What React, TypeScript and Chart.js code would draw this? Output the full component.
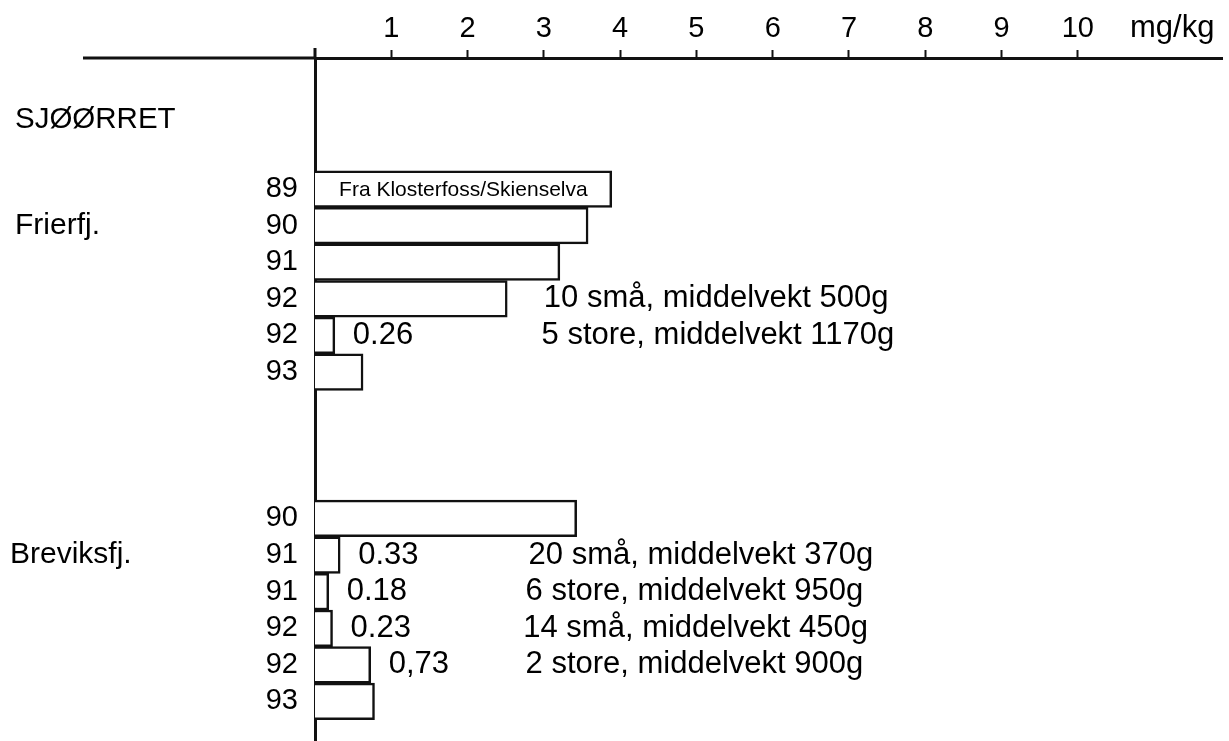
import React, { useEffect, useRef } from 'react';
import { Chart, registerables } from 'chart.js';

Chart.register(...registerables);

// ---- data ----
const speciesTitle = 'SJØØRRET';
const unitLabel = 'mg/kg';
const xTickValues = [1, 2, 3, 4, 5, 6, 7, 8, 9, 10];
const groupNames = ['Frierfj.', 'Breviksfj.'];
const groupLabelSlots = [1, 10];
const yearLabels = ['89', '90', '91', '92', '92', '93', '90', '91', '91', '92', '92', '93'];
const rowSlots = [0, 1, 2, 3, 4, 5, 9, 10, 11, 12, 13, 14];
const values = [3.89, 3.58, 3.21, 2.52, 0.26, 0.63, 3.43, 0.33, 0.18, 0.23, 0.73, 0.78];
const valueLabels = ['', '', '', '', '0.26', '', '', '0.33', '0.18', '0.23', '0,73', ''];
const notes = [
  '', '', '',
  '10 små, middelvekt 500g',
  '5 store, middelvekt 1170g',
  '', '',
  '20 små, middelvekt 370g',
  '6 store, middelvekt 950g',
  '14 små, middelvekt 450g',
  '2 store, middelvekt 900g',
  '',
];
const noteAt = [0, 0, 0, 3.0, 2.97, 0, 0, 2.8, 2.76, 2.73, 2.76, 0];
const barTexts = ['Fra Klosterfoss/Skienselva', '', '', '', '', '', '', '', '', '', '', ''];

const FONT = '"Liberation Sans", Arial, Helvetica, sans-serif';
const INK = '#111111';

const textPlugin = {
  id: 'annotText',
  afterDraw(chart: any) {
    const ctx = chart.ctx;
    const xs = chart.scales.x;
    const ys = chart.scales.y;
    const area = chart.chartArea;
    ctx.save();
    // axis extensions
    ctx.strokeStyle = INK;
    ctx.lineWidth = 3;
    ctx.beginPath();
    ctx.moveTo(83, area.top);
    ctx.lineTo(area.left, area.top);
    ctx.moveTo(area.left, area.top - 10);
    ctx.lineTo(area.left, area.top);
    ctx.stroke();

    ctx.fillStyle = '#000';
    ctx.textBaseline = 'middle';
    ctx.textAlign = 'left';
    // species title
    ctx.font = `29.5px ${FONT}`;
    ctx.fillText(speciesTitle, 15, ys.getPixelForValue(-1.9));
    // group names
    ctx.font = `30px ${FONT}`;
    groupNames.forEach((g, i) => {
      ctx.fillText(g, i === 0 ? 15 : 10, ys.getPixelForValue(groupLabelSlots[i]));
    });
    // unit
    ctx.textBaseline = 'alphabetic';
    ctx.font = `31px ${FONT}`;
    ctx.fillText(unitLabel, 1130, 37);

    ctx.textBaseline = 'middle';
    // value labels and notes
    ctx.font = `31px ${FONT}`;
    values.forEach((v, i) => {
      const y = ys.getPixelForValue(rowSlots[i]);
      if (valueLabels[i]) {
        ctx.fillText(valueLabels[i], xs.getPixelForValue(v) + 18, y);
      }
      if (notes[i]) {
        ctx.fillText(notes[i], xs.getPixelForValue(noteAt[i]), y);
      }
    });
    // text inside bars
    ctx.font = `21px ${FONT}`;
    ctx.textAlign = 'center';
    values.forEach((v, i) => {
      if (barTexts[i]) {
        const cx = (xs.getPixelForValue(0) + xs.getPixelForValue(v)) / 2;
        ctx.fillText(barTexts[i], cx, ys.getPixelForValue(rowSlots[i]) + 1);
      }
    });
    ctx.restore();
  },
};

export default function App() {
  const canvasRef = useRef<HTMLCanvasElement | null>(null);

  useEffect(() => {
    document.body.style.margin = '0';
    const canvas = canvasRef.current;
    if (!canvas) return;
    Chart.defaults.font.family = FONT;
    const chart = new Chart(canvas, {
      type: 'bar',
      data: {
        datasets: [
          {
            data: values.map((v, i) => ({ x: v, y: rowSlots[i] })),
            backgroundColor: '#ffffff',
            borderColor: INK,
            borderWidth: 2.5,
            borderSkipped: 'start',
            barPercentage: 1,
            categoryPercentage: 1,
          },
        ],
      },
      options: {
        indexAxis: 'y',
        animation: false,
        responsive: false,
        maintainAspectRatio: false,
        layout: { padding: { left: 0, right: 7, top: 0, bottom: 0 } },
        plugins: {
          legend: { display: false },
          tooltip: { enabled: false },
          title: { display: false },
        },
        scales: {
          x: {
            type: 'linear',
            position: 'top',
            min: 0,
            max: 11.89,
            offset: false,
            ticks: {
              stepSize: 1,
              color: '#000',
              font: { size: 29, family: FONT },
              padding: 4,
              autoSkip: false,
              maxRotation: 0,
            },
            afterBuildTicks: (scale: any) => {
              scale.ticks = xTickValues.map((v) => ({ value: v }));
            },
            afterFit: (scale: any) => {
              scale.height = 58;
              scale.paddingLeft = 0;
              scale.paddingRight = 0;
            },
            grid: {
              display: true,
              drawOnChartArea: false,
              drawTicks: true,
              tickLength: 8,
              tickWidth: 2,
              tickColor: INK,
              offset: false,
            },
            border: { display: true, color: INK, width: 3 },
          },
          y: {
            type: 'linear',
            position: 'left',
            reverse: true,
            min: -3.58,
            max: 15.08,
            offset: false,
            ticks: {
              color: '#000',
              font: { size: 29, family: FONT },
              padding: 17,
              autoSkip: false,
              callback: (value: any) => {
                const idx = rowSlots.indexOf(Number(value));
                return idx >= 0 ? yearLabels[idx] : '';
              },
            },
            afterBuildTicks: (scale: any) => {
              scale.ticks = rowSlots.map((v) => ({ value: v }));
            },
            afterFit: (scale: any) => {
              scale.width = 315;
              scale.paddingTop = 0;
              scale.paddingBottom = 0;
            },
            grid: {
              display: true,
              drawOnChartArea: false,
              drawTicks: false,
              offset: false,
            },
            border: { display: true, color: INK, width: 3 },
          },
        },
      },
      plugins: [textPlugin],
    } as any);
    return () => {
      chart.destroy();
    };
  }, []);

  return (
    <div style={{ width: 1229, height: 741, background: '#fff' }}>
      <canvas ref={canvasRef} width={1229} height={741} style={{ display: 'block' }} />
    </div>
  );
}
